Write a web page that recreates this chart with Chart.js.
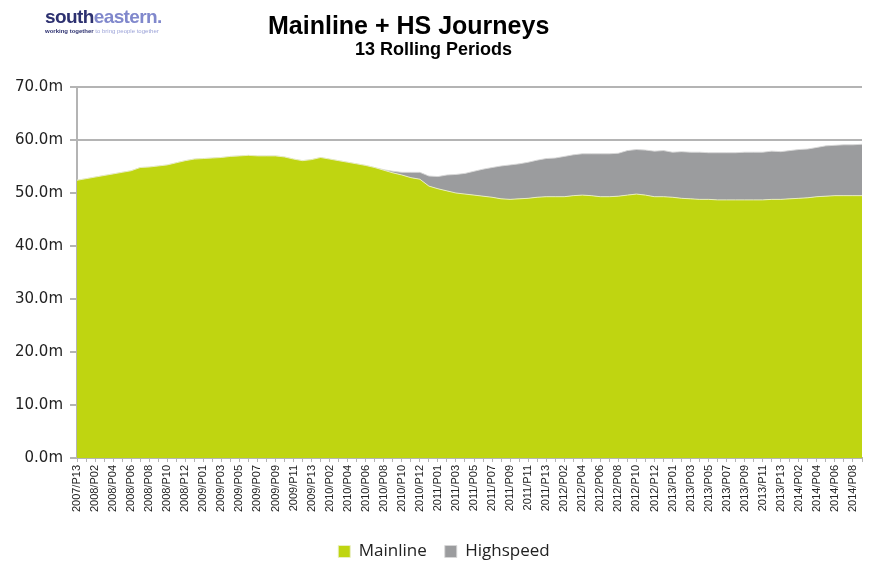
<!DOCTYPE html>
<html>
<head>
<meta charset="utf-8">
<script src="https://cdn.jsdelivr.net/npm/chart.js@4"></script>
<style>
  html, body { margin: 0; padding: 0; background: #fff; }
  #wrap { position: relative; width: 869px; height: 563px; overflow: hidden; }
  #myChart { position: absolute; left: 0; top: 0; }
  .logo { position: absolute; left: 45px; top: 6px; font-family: "Liberation Sans", Arial, sans-serif; }
  .logo .name { font-size: 19px; font-weight: bold; letter-spacing: -0.6px; line-height: 21px; }
  .logo .name .a { color: #2d3170; }
  .logo .name .b { color: #8088cc; }
  .logo .tag { font-size: 6px; line-height: 8px; color: #9ca3d8; white-space: nowrap; }
  .logo .tag b { color: #2d3170; }
  .title { position: absolute; font-family: "Liberation Sans", Arial, sans-serif; font-weight: bold; color: #000; white-space: nowrap; }
  #t1 { left: 268px; top: 11px; font-size: 25px; }
  #t2 { left: 355px; top: 39px; font-size: 18px; }
</style>
</head>
<body>
<div id="wrap">
  <canvas id="myChart" width="869" height="563"></canvas>
  <div class="logo">
    <div class="name"><span class="a">south</span><span class="b">eastern.</span></div>
    <div class="tag"><b>working together</b> to bring people together</div>
  </div>
  <div class="title" id="t1">Mainline + HS Journeys</div>
  <div class="title" id="t2">13 Rolling Periods</div>
</div>
<script>
const periods = [
  "2007/P13",
  "2008/P01","2008/P02","2008/P03","2008/P04","2008/P05","2008/P06","2008/P07","2008/P08","2008/P09","2008/P10","2008/P11","2008/P12","2008/P13",
  "2009/P01","2009/P02","2009/P03","2009/P04","2009/P05","2009/P06","2009/P07","2009/P08","2009/P09","2009/P10","2009/P11","2009/P12","2009/P13",
  "2010/P01","2010/P02","2010/P03","2010/P04","2010/P05","2010/P06","2010/P07","2010/P08","2010/P09","2010/P10","2010/P11","2010/P12","2010/P13",
  "2011/P01","2011/P02","2011/P03","2011/P04","2011/P05","2011/P06","2011/P07","2011/P08","2011/P09","2011/P10","2011/P11","2011/P12","2011/P13",
  "2012/P01","2012/P02","2012/P03","2012/P04","2012/P05","2012/P06","2012/P07","2012/P08","2012/P09","2012/P10","2012/P11","2012/P12","2012/P13",
  "2013/P01","2013/P02","2013/P03","2013/P04","2013/P05","2013/P06","2013/P07","2013/P08","2013/P09","2013/P10","2013/P11","2013/P12","2013/P13",
  "2014/P01","2014/P02","2014/P03","2014/P04","2014/P05","2014/P06","2014/P07","2014/P08","2014/P09"
];

// journeys in millions, 13 period rolling totals
const mainline = [
  52.4, 52.7, 53.0, 53.3, 53.6, 53.9, 54.2, 54.8, 54.9, 55.1,
  55.3, 55.7, 56.1, 56.4, 56.5, 56.6, 56.7, 56.9, 57.0, 57.1,
  57.0, 57.0, 57.0, 56.8, 56.4, 56.1, 56.3, 56.7, 56.4, 56.1,
  55.8, 55.5, 55.2, 54.8, 54.3, 53.8, 53.4, 52.9, 52.6, 51.3,
  50.8, 50.4, 50.0, 49.8, 49.6, 49.4, 49.2, 48.9, 48.8, 48.9,
  49.0, 49.2, 49.3, 49.3, 49.3, 49.5, 49.6, 49.5, 49.3, 49.3,
  49.4, 49.6, 49.8, 49.6, 49.3, 49.3, 49.2, 49.0, 48.9, 48.8,
  48.8, 48.7, 48.7, 48.7, 48.7, 48.7, 48.7, 48.8, 48.8, 48.9,
  49.0, 49.1, 49.3, 49.4, 49.5, 49.5, 49.5, 49.5
];
const highspeed = [
  0, 0, 0, 0, 0, 0, 0, 0, 0, 0,
  0, 0, 0, 0, 0, 0, 0, 0, 0, 0,
  0, 0, 0, 0, 0, 0, 0, 0, 0, 0,
  0, 0, 0, 0, 0.1, 0.3, 0.5, 1.0, 1.3, 1.9,
  2.3, 3.0, 3.5, 3.9, 4.5, 5.1, 5.6, 6.2, 6.5, 6.6,
  6.8, 7.0, 7.2, 7.3, 7.6, 7.7, 7.8, 7.9, 8.1, 8.1,
  8.1, 8.4, 8.4, 8.5, 8.6, 8.7, 8.5, 8.8, 8.8, 8.9,
  8.8, 8.9, 8.9, 8.9, 9.0, 9.0, 9.0, 9.1, 9.0, 9.1,
  9.2, 9.2, 9.3, 9.5, 9.5, 9.6, 9.6, 9.7
];
const yTicks = [0, 10, 20, 30, 40, 50, 60, 70];

const green = '#bfd511';
const grey = '#9b9c9e';
const gridGrey = '#b4b4b4';

var data = {
  labels: periods,
  datasets: [{
    label: 'Mainline',
    data: mainline,
    backgroundColor: green,
    borderColor: 'rgba(235,240,200,0.9)',
    borderWidth: 1,
    fill: 'origin',
    pointRadius: 0,
    tension: 0
  }, {
    label: 'Highspeed',
    data: highspeed,
    backgroundColor: grey,
    borderColor: 'rgba(215,215,215,0.9)',
    borderWidth: 1,
    fill: '-1',
    pointRadius: 0,
    tension: 0
  }]
};

// nudge the legend a little right, the way the original sits
const legendShift = {
  id: 'legendShift',
  afterLayout(chart) {
    if (!chart.legend) return
    chart.legend.left += 13
    chart.legend.right += 13
  }
};

var options = {
  responsive: false,
  animation: false,
  events: [],
  layout: { padding: { left: 0, right: 7, top: 87, bottom: -7 } },
  scales: {
    x: {
      offset: false,
      grid: { display: true, drawOnChartArea: false, drawTicks: true, tickLength: 4, color: gridGrey, offset: false },
      border: { display: true, color: gridGrey, width: 2 },
      ticks: {
        autoSkip: false,
        minRotation: 90,
        maxRotation: 90,
        padding: 3,
        color: '#222',
        font: { family: '"Liberation Sans", Arial, sans-serif', size: 11 },
        callback: function (val, i) { return i % 2 === 0 ? periods[i] : ''; }
      },
      afterFit: function (scale) {
        scale.height = 67;
        scale.paddingLeft = 0;
        scale.paddingRight = 0;
      }
    },
    y: {
      stacked: true,
      min: 0,
      max: 70,
      afterBuildTicks: function (scale) { scale.ticks = yTicks.map(v => ({ value: v })); },
      grid: { color: gridGrey, lineWidth: 2, tickLength: 7 },
      border: { display: true, color: gridGrey, width: 2 },
      ticks: {
        padding: 7,
        color: '#222',
        font: { family: '"DejaVu Sans", sans-serif', size: 15 },
        callback: function (v) { return v.toFixed(1) + 'm'; }
      },
      afterFit: function (scale) {
        scale.width = 77;
        scale.paddingTop = 0;
        scale.paddingBottom = 0;
      }
    }
  },
  plugins: {
    title: { display: false },
    tooltip: { enabled: false },
    legend: {
      position: 'bottom',
      labels: {
        boxWidth: 12,
        boxHeight: 12,
        padding: 18,
        color: '#222',
        font: { family: '"Open Sans", sans-serif', size: 17 }
      }
    }
  }
};

new Chart('myChart', {
  type: 'line',
  data: data,
  options: options,
  plugins: [legendShift]
});
</script>
</body>
</html>
